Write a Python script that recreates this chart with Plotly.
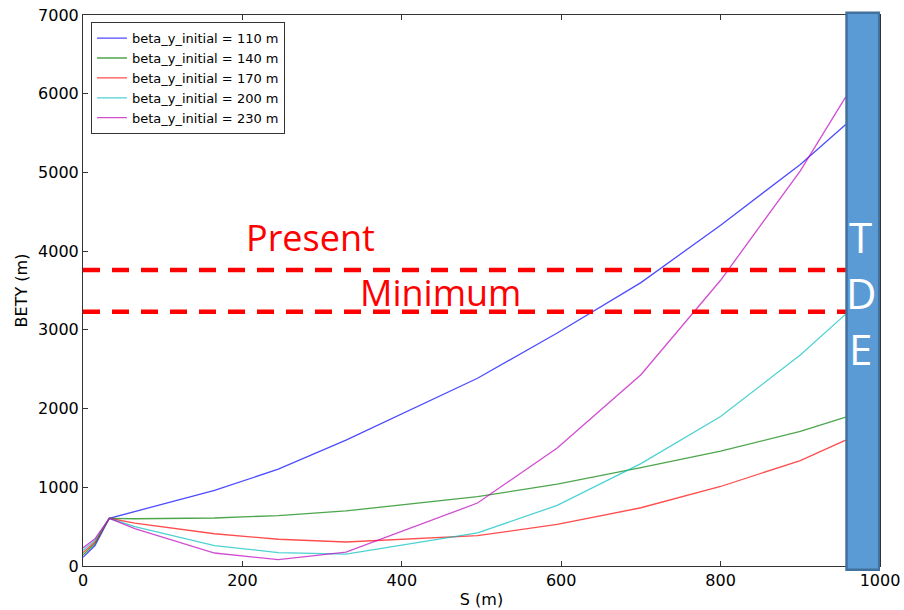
import plotly.graph_objects as go

# Data
s_pos = [0, 15, 33, 65, 165, 245, 330, 495, 595, 700, 800, 900, 957]
bety_110 = [110, 260, 606, 690, 960, 1230, 1600, 2385, 2960, 3600, 4330, 5100, 5610]
bety_140 = [140, 285, 606, 600, 610, 640, 700, 880, 1040, 1250, 1460, 1710, 1890]
bety_170 = [170, 305, 606, 545, 410, 340, 305, 385, 530, 740, 1010, 1340, 1600]
bety_200 = [200, 325, 606, 500, 260, 170, 150, 420, 770, 1300, 1900, 2680, 3200]
bety_230 = [230, 345, 606, 475, 165, 80, 175, 800, 1500, 2430, 3630, 5020, 5960]
series_names = ["beta_y_initial = 110 m", "beta_y_initial = 140 m", "beta_y_initial = 170 m",
                "beta_y_initial = 200 m", "beta_y_initial = 230 m"]
series_colors = ["rgba(0,0,255,0.7)", "rgba(0,128,0,0.7)", "rgba(255,0,0,0.7)",
                 "rgba(0,191,191,0.7)", "rgba(191,0,191,0.7)"]
present_level = 3760
minimum_level = 3230
x_ticks = [0, 200, 400, 600, 800, 1000]
y_ticks = [0, 1000, 2000, 3000, 4000, 5000, 6000, 7000]

fig = go.Figure()
for name, ys, col in zip(series_names, [bety_110, bety_140, bety_170, bety_200, bety_230], series_colors):
    fig.add_trace(go.Scatter(x=s_pos, y=ys, mode="lines", name=name,
                             line=dict(color=col, width=1.3)))

# Dashed reference lines
for lvl in [present_level, minimum_level]:
    fig.add_shape(type="line", xref="paper", yref="y", x0=0, x1=1, y0=lvl, y1=lvl,
                  line=dict(color="#FF0000", width=4.5, dash="17px,12px"), layer="above")

fig.add_annotation(x=286, y=4170, text="Present", showarrow=False,
                   font=dict(family="Open Sans", size=36, color="#FF0000"))
fig.add_annotation(x=448, y=3470, text="Minimum", showarrow=False,
                   font=dict(family="Open Sans", size=36, color="#FF0000"))

# TDE box
fig.add_shape(type="rect", xref="x", yref="paper", x0=958, x1=999, y0=-0.007, y1=1.004,
              fillcolor="#5B9BD5", line=dict(color="#41719C", width=2.5), layer="above")
for letter, yv in zip(["T", "D", "E"], [4190, 3480, 2760]):
    fig.add_annotation(x=976, y=yv, text=letter, showarrow=False,
                       font=dict(family="Open Sans", size=42, color="white"))

axis_common = dict(showline=True, linecolor="#333333", linewidth=1, mirror="ticks",
                   ticks="inside", ticklen=5, tickcolor="#333333", showgrid=False,
                   zeroline=False, automargin=False,
                   tickfont=dict(family="DejaVu Sans", size=16, color="black"))
fig.update_xaxes(range=[0, 1000], tickvals=x_ticks, title=dict(text="S (m)", standoff=4,
                 font=dict(family="DejaVu Sans", size=16, color="black")), **axis_common)
fig.update_yaxes(range=[0, 7000], tickvals=y_ticks, title=dict(text="BETY (m)", standoff=6,
                 font=dict(family="DejaVu Sans", size=16, color="black")), **axis_common)

fig.update_layout(
    width=904, height=610,
    margin=dict(l=83, r=24, t=15, b=44),
    plot_bgcolor="white", paper_bgcolor="white",
    legend=dict(x=0.01, y=0.987, xanchor="left", yanchor="top",
                bordercolor="#333333", borderwidth=1, bgcolor="white",
                font=dict(family="DejaVu Sans", size=13, color="black"),
                tracegroupgap=0, itemwidth=30),
)

fig.write_html("out.html")
